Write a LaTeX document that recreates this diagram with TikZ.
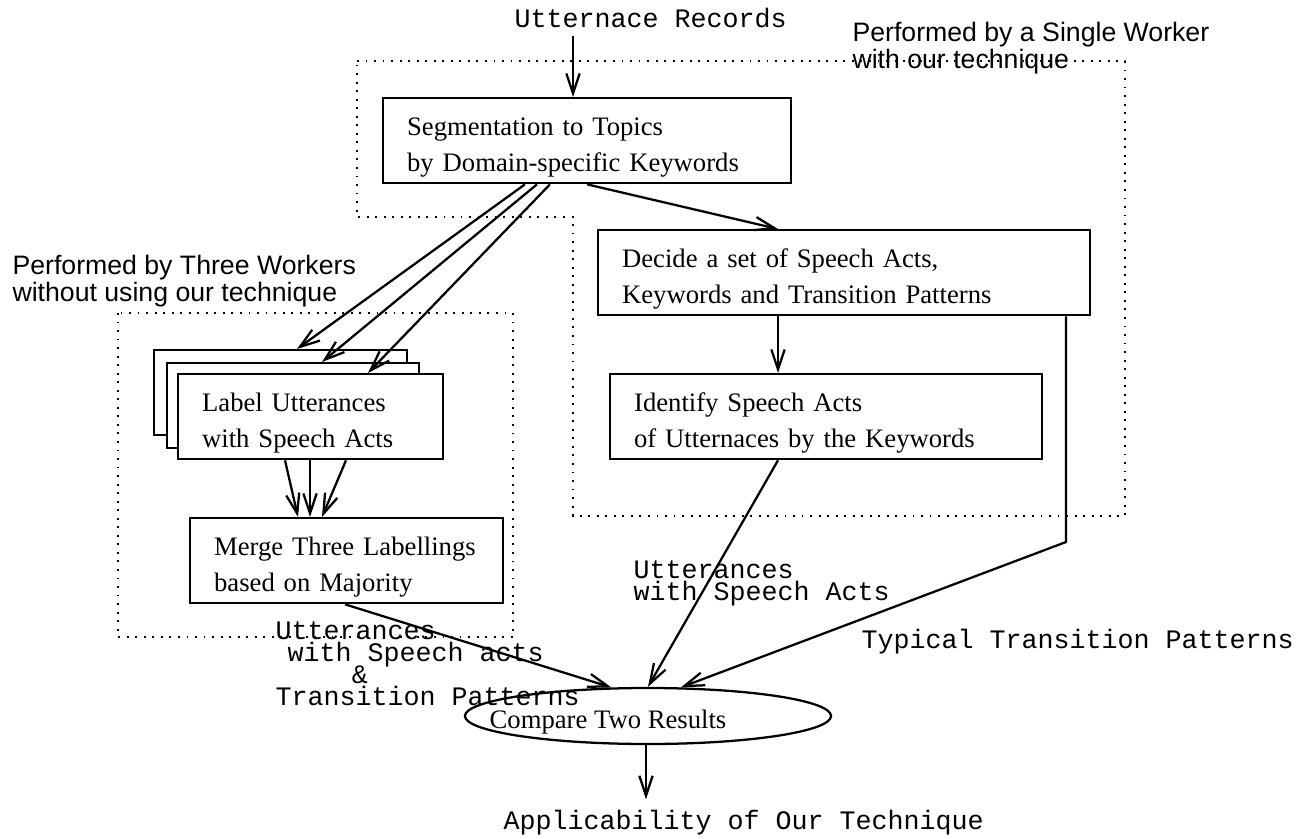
\documentclass[tikz,border=0pt]{standalone}
\usepackage{fontspec}
\setmainfont{Liberation Serif}
\setsansfont{Liberation Sans}
\setmonofont{Liberation Mono}
\usetikzlibrary{arrows.meta,shapes.geometric}

\tikzset{
  procbox/.style={draw,line width=0.85pt,fill=white,anchor=north west,align=left,
    inner xsep=9pt,inner ysep=0pt,minimum height=31.9pt,text width=#1,
    font={\fontsize{10}{13.5}\selectfont},execute at begin node={\rule{0pt}{11.5pt}}},
  cmpell/.style={draw,ellipse,line width=0.85pt,minimum width=137.3pt,
    minimum height=21pt,inner sep=0pt},
  monotxt/.style={font={\ttfamily\fontsize{10}{8.3}\selectfont\lineskiplimit=-20pt},
    inner sep=0pt,align=left,anchor=west},
  sanstxt/.style={font={\sffamily\fontsize{10}{10.1}\selectfont\lineskiplimit=-20pt},
    inner sep=0pt,align=left,anchor=west},
  region/.style={line width=0.7pt,dash pattern=on 0.7pt off 2.5pt},
  flow/.style={->,line width=0.85pt}
}

\begin{document}
\begin{tikzpicture}[x=0.375pt,y=-0.375pt,>={Straight Barb[length=7.5pt,width=5pt]}]
  \useasboundingbox (0,0) rectangle (1311,839);
  % worker regions
  \draw[region] (357,61) -- (1125,61) -- (1125,516) -- (573,516) -- (573,217) -- (357,217) -- cycle;
  \draw[region] (118,313) rectangle (513,637);
  \node[sanstxt] (lone) at (852,48) {Performed by a Single Worker\\with our technique};
  \node[sanstxt] (lthree) at (12,281) {Performed by Three Workers\\without using our technique};

  \coordinate (xin) at (573,0);
  \coordinate (xdec) at (778,0);
  \coordinate (xout) at (646,0);
  \coordinate (bend) at (1066,542);

  \node[monotxt] (rec) at (514,18) {Utternace Records};
  \node[procbox=135pt] (seg) at (382,97) {Segmentation to Topics\\by Domain-specific Keywords};

  % three workers
  \node[procbox=76.9pt] (lab3) at (153,349) {};
  \node[procbox=76.5pt] (lab2) at (166,362) {};
  \node[procbox=81.4pt] (lab1) at (177,373) {Label Utterances\\with Speech Acts};
  \node[procbox=99.4pt] (merge) at (189,517) {Merge Three Labellings\\based on Majority};

  % single worker
  \node[procbox=166.5pt] (dec) at (597,229) {Decide a set of Speech Acts,\\Keywords and Transition Patterns};
  \node[procbox=144pt] (ident) at (609,373) {Identify Speech Acts\\of Utternaces by the Keywords};

  \node[cmpell] (cmp) at (648,716) {};
  \node[font={\fontsize{10}{12}\selectfont},inner sep=0pt] (cmptxt) at (608,722) {Compare Two Results};
  \node[monotxt] (app) at (503,823) {Applicability of Our Technique};

  \node[monotxt] (uttr) at (633,583) {Utterances\\with Speech Acts};
  \node[monotxt] (typ) at (861,642) {Typical Transition Patterns};
  \node[monotxt] (uttl) at (275,664) {Utterances\\\hspace*{4.5pt}with Speech acts\\\hspace*{28.6pt}\&\\Transition Patterns};

  % arrows
  \draw[flow,shorten <=3pt] (rec.south -| xin) -- (seg.north -| xin);
  \foreach \sx/\tx/\nd in {525/297/lab3,537/322/lab2,550/368/lab1}
    \draw[flow] (seg.south -| \sx,0) -- (\nd.north -| \tx,0);
  \draw[flow] (seg.south -| 587,0) -- (dec.north -| xdec);
  \draw[flow] (dec.south -| xdec) -- (ident.north -| xdec);
  \foreach \sx/\tx in {285/298,310/310,346/322}
    \draw[flow] (lab1.south -| \sx,0) -- (merge.north -| \tx,0);
  \draw[flow] (merge.south -| 345,0) -- (cmp.142);
  \draw[flow] (ident.south -| xdec) -- (cmp.north);
  \draw[flow] (dec.south -| bend) -- (bend) -- (cmp.41);
  \draw[flow,shorten >=4pt] (cmp.south -| xout) -- (app.north -| xout);
\end{tikzpicture}
\end{document}
